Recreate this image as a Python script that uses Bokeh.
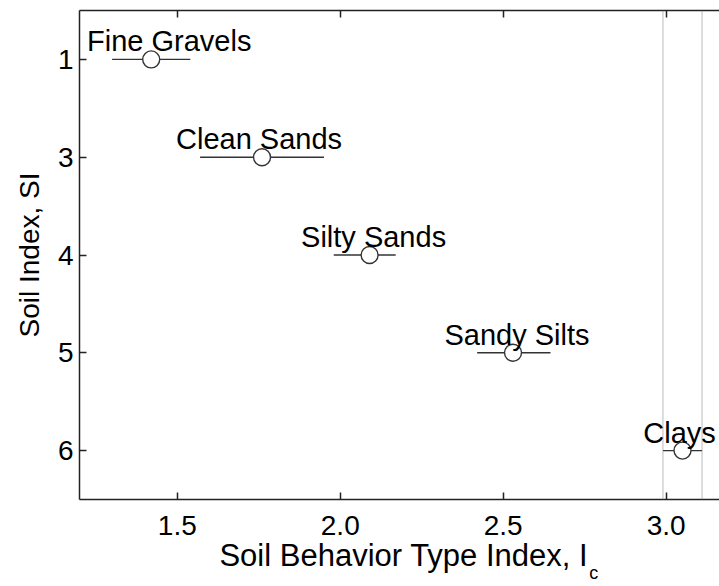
from bokeh.plotting import figure
from bokeh.models import (ColumnDataSource, FactorRange, Range1d, LinearAxis, FixedTicker,
                          Span, Label, PrintfTickFormatter, CustomJSTickFormatter)
from bokeh.embed import file_html
from bokeh.resources import INLINE
from bokeh.core.properties import value

# ---- data ----
soil_types = ["Fine Gravels", "Clean Sands", "Silty Sands", "Sandy Silts", "Clays"]
soil_index = ["1", "3", "4", "5", "6"]
ic_mean = [1.42, 1.76, 2.09, 2.53, 3.05]
ic_low = [1.30, 1.57, 1.98, 2.42, 2.99]
ic_high = [1.54, 1.95, 2.17, 2.645, 3.11]
clay_bounds = [2.99, 3.11]
x_ticks = [1.5, 2.0, 2.5, 3.0]
label_dx = [18, -3, 4, 4, -3]

FONT = "Liberation Sans"
INK = "#222222"

src = ColumnDataSource(dict(name=soil_types, si=soil_index, ic=ic_mean,
                            lo=ic_low, hi=ic_high, dx=label_dx))

p = figure(width=719, height=586, output_backend="svg", toolbar_location=None,
           x_range=Range1d(1.2, 3.1635),
           y_range=FactorRange(factors=list(reversed(soil_index)), range_padding=0))
p.min_border_left = 79
p.min_border_top = 10
p.min_border_right = 0
p.min_border_bottom = 87
p.outline_line_color = None
p.grid.visible = False

for xb in clay_bounds:
    p.add_layout(Span(location=xb, dimension="height", line_color="#777777",
                      line_dash="1 1", line_width=1))

p.segment(x0="lo", x1="hi", y0="si", y1="si", source=src, line_color="#333333", line_width=1.4)
p.scatter(x="ic", y="si", source=src, size=17, fill_color="white", line_color="#333333", line_width=1.4)
p.text(x="ic", y="si", text="name", source=src, x_offset="dx", y_offset=-18,
       text_align="center", text_baseline="alphabetic",
       text_font=value(FONT), text_font_size="29px", text_color="black")

xa = p.xaxis[0]
xa.ticker = FixedTicker(ticks=x_ticks)
xa.formatter = PrintfTickFormatter(format="%.1f")
xa.axis_label = "\u00a0Soil Behavior Type Index, I"
ya = p.yaxis[0]
ya.axis_label = "Soil Index, SI"

for ax in (xa, ya):
    ax.major_tick_in = 7
    ax.major_tick_out = 0
    ax.minor_tick_in = 0
    ax.minor_tick_out = 0
    ax.axis_line_color = INK
    ax.axis_line_width = 1.5
    ax.major_tick_line_color = INK
    ax.major_tick_line_width = 1.5
    ax.major_label_text_font = FONT
    ax.major_label_text_font_size = "28px"
    ax.major_label_text_color = "black"
    ax.axis_label_text_font = FONT
    ax.axis_label_text_font_style = "normal"
    ax.axis_label_text_color = "black"
xa.axis_label_text_font_size = "31px"
ya.axis_label_text_font_size = "28px"
xa.major_label_standoff = 16
xa.axis_label_standoff = 0
ya.major_label_standoff = 6
ya.axis_label_standoff = 10

top = LinearAxis(ticker=FixedTicker(ticks=x_ticks),
                 formatter=CustomJSTickFormatter(code="return ''"),
                 major_tick_in=7, major_tick_out=0, minor_tick_in=0, minor_tick_out=0,
                 axis_line_color=INK, axis_line_width=1.5,
                 major_tick_line_color=INK, major_tick_line_width=1.5,
                 major_label_standoff=0)
p.add_layout(top, "above")

# subscript "c" of I_c, placed in the left side panel so it is not clipped to the frame
p.add_layout(Label(x=2.764, y=-73, x_units="data", y_units="screen", text="c",
                   text_font=FONT, text_font_size="18px", text_color="black",
                   text_align="left", text_baseline="alphabetic"), "left")

open("out.html", "w").write(file_html(p, INLINE))
